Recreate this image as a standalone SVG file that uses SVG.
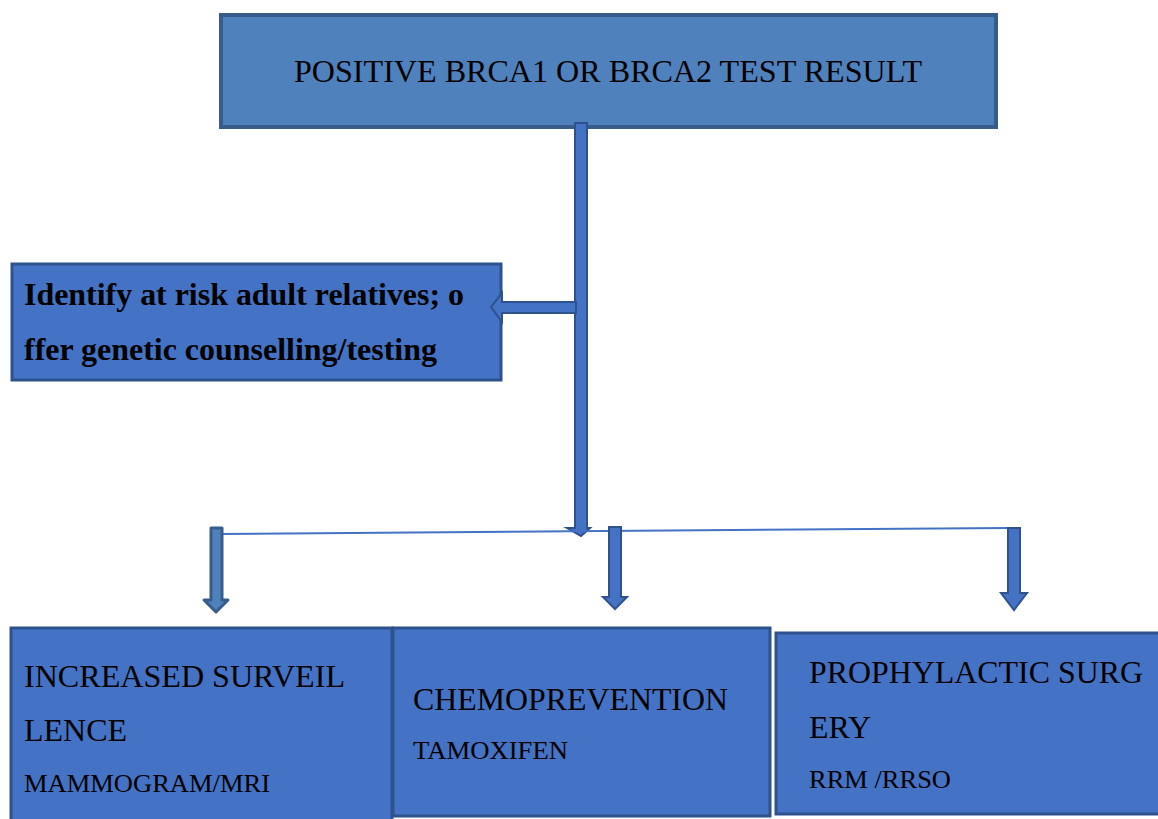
<svg xmlns="http://www.w3.org/2000/svg" width="1158" height="819" viewBox="0 0 1158 819">
<style>
.box{fill:#4472C4;stroke:#2F528F;stroke-width:3}
.top{fill:#4F81BD;stroke:#385D8A;stroke-width:4}
.arr{fill:#4472C4;stroke:#2F528F;stroke-width:2;stroke-linejoin:miter}
.arr2{fill:#4F81BD;stroke:#385D8A;stroke-width:3;stroke-linejoin:round}
.t{font-family:"Liberation Serif","Times New Roman",serif;fill:#000}
.b{font-weight:bold}
</style>
<rect width="1158" height="819" fill="#fff"/>
<g id="n-top">
<rect class="top" x="221" y="15" width="775" height="112"/>
<text class="t" x="608" y="82" font-size="32" text-anchor="middle" textLength="628" lengthAdjust="spacingAndGlyphs">POSITIVE BRCA1 OR BRCA2 TEST RESULT</text>
</g>
<g id="n-relatives">
<rect class="box" x="12" y="264" width="489" height="116"/>
<text class="t b" x="24" y="305" font-size="31" textLength="440" lengthAdjust="spacingAndGlyphs">Identify at risk adult relatives; o</text>
<text class="t b" x="24" y="360" font-size="31" textLength="413" lengthAdjust="spacingAndGlyphs">ffer genetic counselling/testing</text>
</g>
<g id="n-surveillance">
<rect class="box" x="11" y="628" width="381" height="195"/>
<text class="t" x="24" y="687" font-size="31" textLength="321" lengthAdjust="spacingAndGlyphs">INCREASED SURVEIL</text>
<text class="t" x="24" y="741" font-size="31" textLength="103" lengthAdjust="spacingAndGlyphs">LENCE</text>
<text class="t" x="24" y="792" font-size="25" textLength="246" lengthAdjust="spacingAndGlyphs">MAMMOGRAM/MRI</text>
</g>
<g id="n-chemo">
<rect class="box" x="393" y="628" width="377" height="188"/>
<text class="t" x="413" y="710" font-size="31" textLength="315" lengthAdjust="spacingAndGlyphs">CHEMOPREVENTION</text>
<text class="t" x="413" y="759" font-size="25" textLength="155" lengthAdjust="spacingAndGlyphs">TAMOXIFEN</text>
</g>
<g id="n-surgery">
<rect class="box" x="776" y="633" width="390" height="181"/>
<text class="t" x="809" y="683" font-size="31" textLength="334" lengthAdjust="spacingAndGlyphs">PROPHYLACTIC SURG</text>
<text class="t" x="809" y="738" font-size="31" textLength="62" lengthAdjust="spacingAndGlyphs">ERY</text>
<text class="t" x="809" y="788" font-size="25" textLength="142" lengthAdjust="spacingAndGlyphs">RRM /RRSO</text>
</g>
<g id="connectors">
<path class="arr" d="M575,123 H587 V528 H590 L581,536 L567,528 H575 Z"/>
<path class="arr" d="M576,302 V313 H502 V322 L491,307 L502,293 V302 Z"/>
<line x1="218" y1="534" x2="1009" y2="528" stroke="#4472C4" stroke-width="2"/>
<path class="arr2" d="M211,528 H222 V600 H228 L216,612 L204,600 H211 Z"/>
<path class="arr" d="M609,527 H621 V597 H627 L615,609 L603,597 H609 Z"/>
<path class="arr" d="M1008,528 H1020 V593 H1027 L1014,610 L1001,593 H1008 Z"/>
</g>
</svg>
